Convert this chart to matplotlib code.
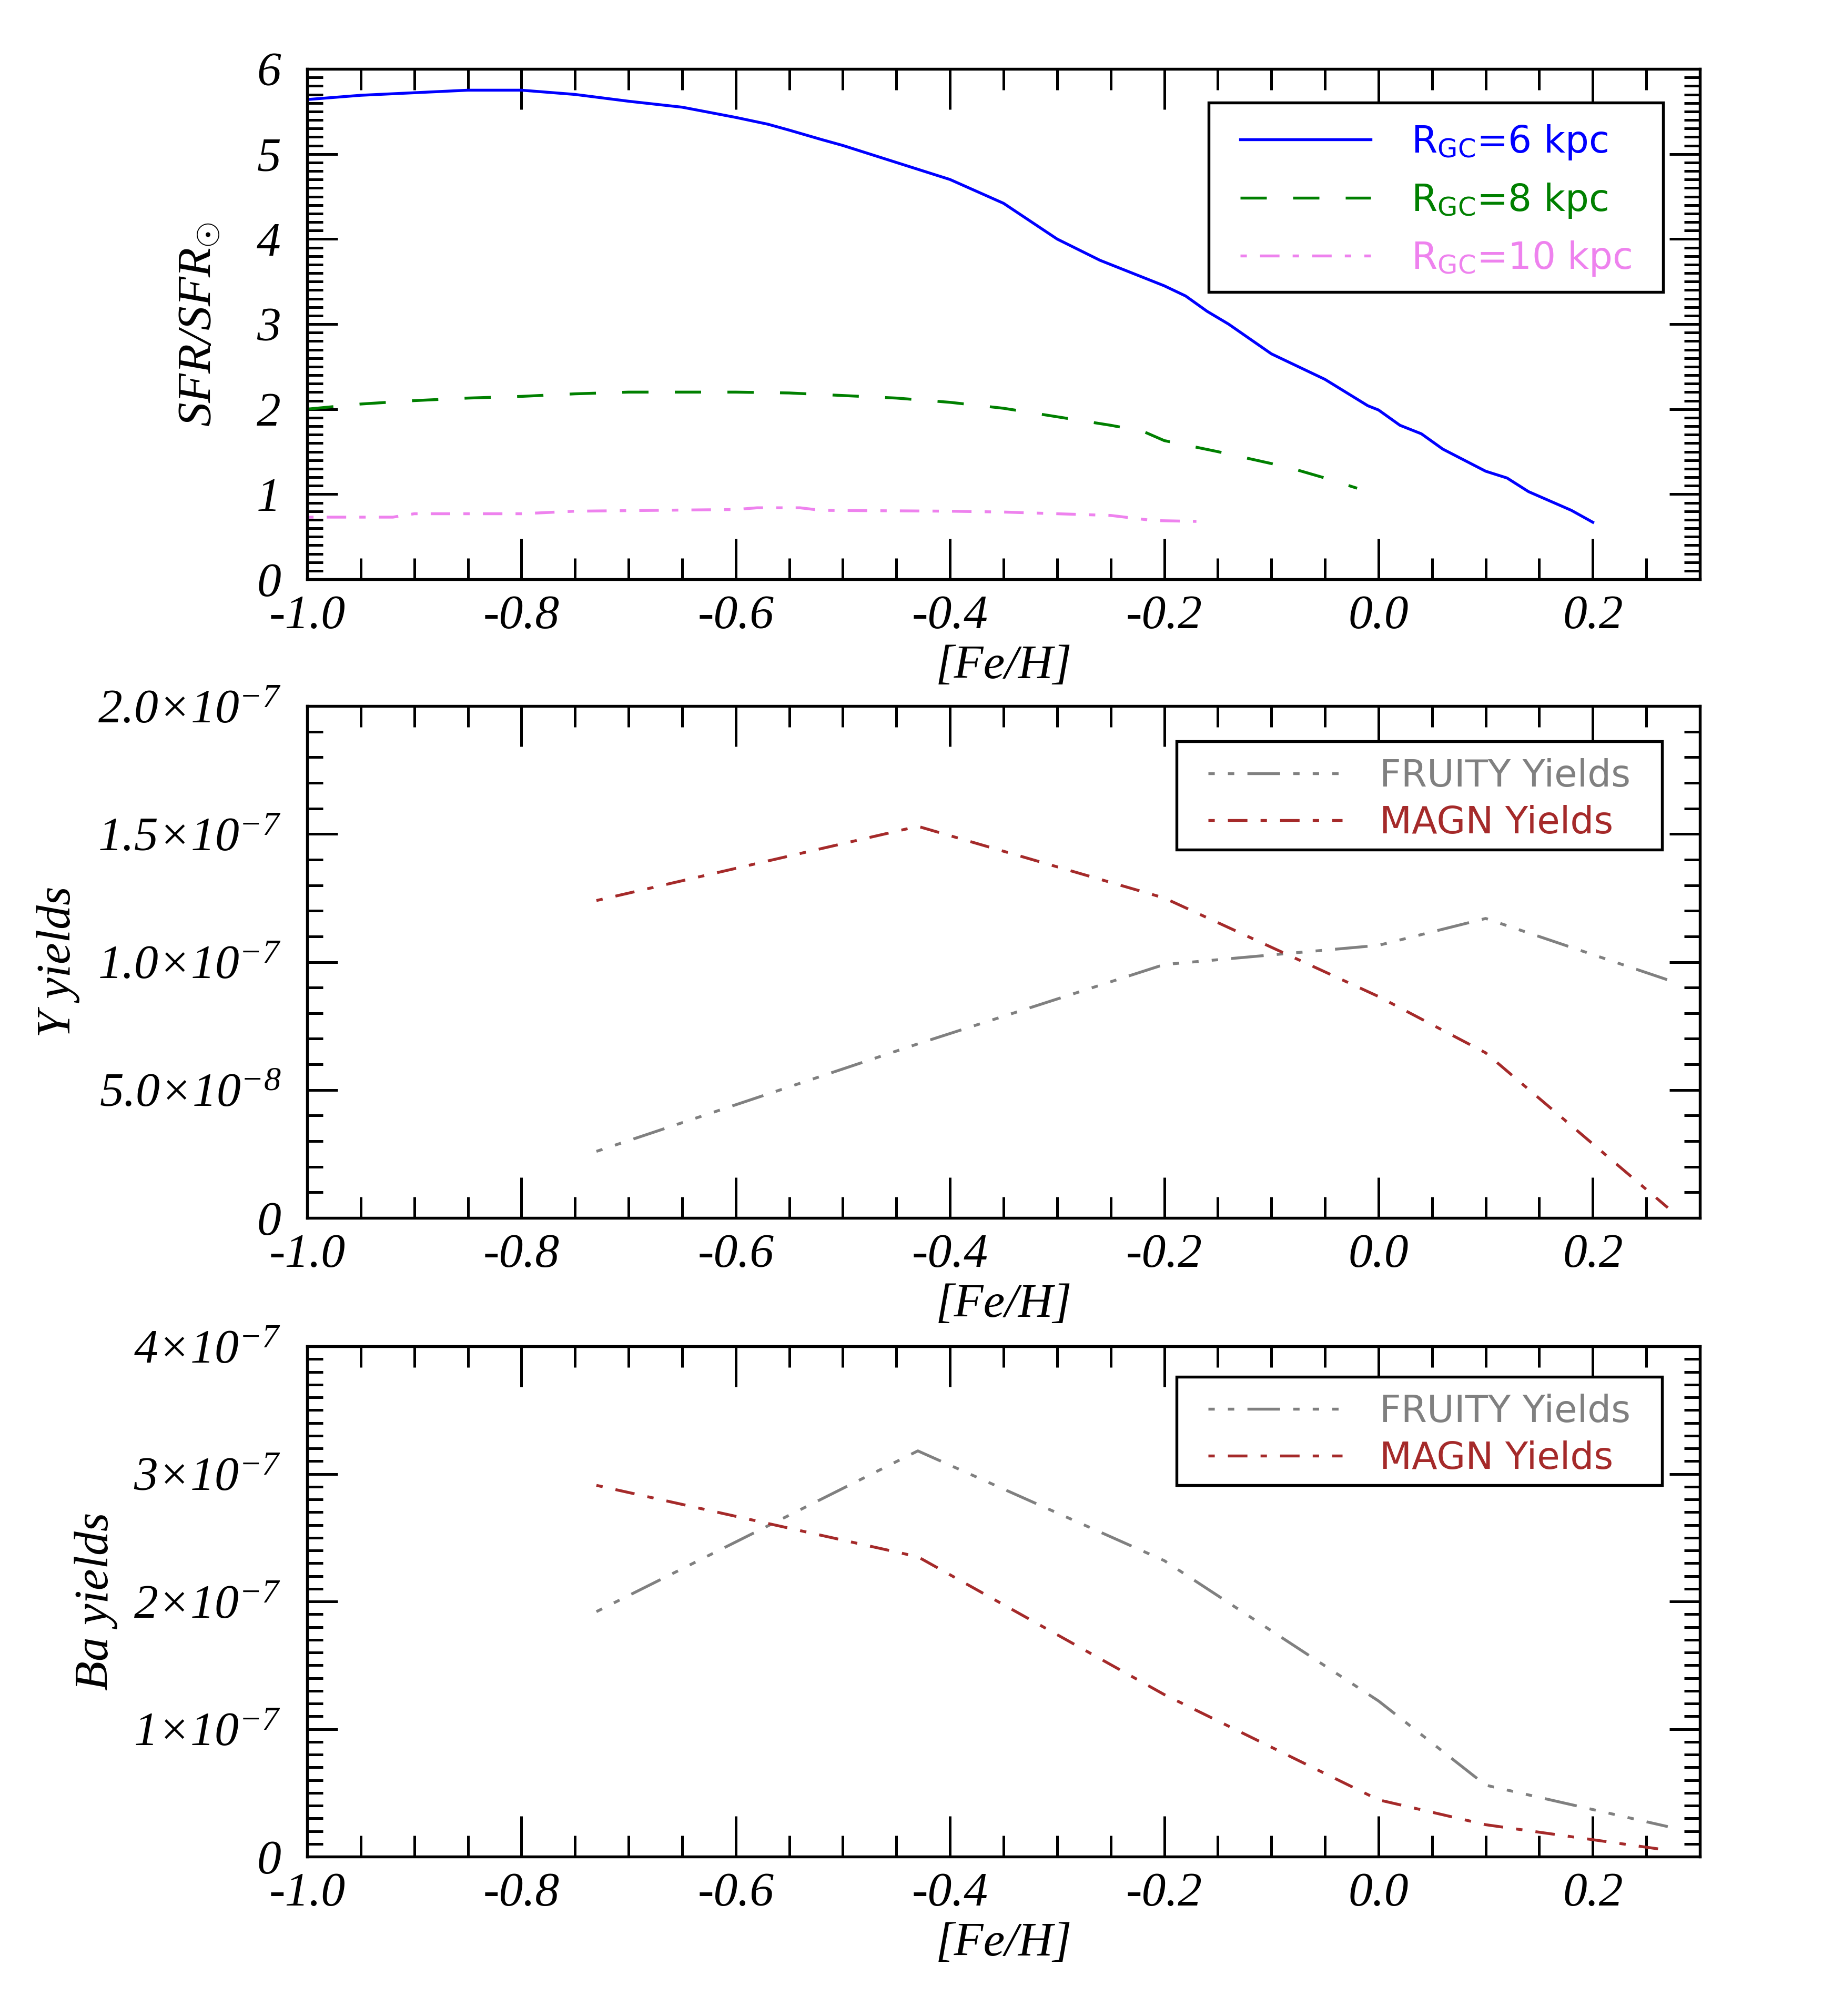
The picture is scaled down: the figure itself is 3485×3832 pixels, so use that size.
import matplotlib
matplotlib.use('Agg')
import matplotlib.pyplot as plt
from matplotlib.ticker import MultipleLocator, FixedLocator, FixedFormatter, FuncFormatter
from matplotlib.font_manager import FontProperties
from matplotlib.patches import Rectangle
from matplotlib.transforms import IdentityTransform

# ---------------- data ----------------
feh_r6 = [-1.0, -0.95, -0.9, -0.85, -0.8, -0.75, -0.7, -0.65, -0.6, -0.57, -0.55, -0.52,
          -0.5, -0.45, -0.4, -0.35, -0.3, -0.26, -0.22, -0.2, -0.18, -0.16, -0.14, -0.1,
          -0.05, -0.01, 0.0, 0.02, 0.04, 0.06, 0.1, 0.12, 0.14, 0.16, 0.18, 0.2]
sfr_r6 = [5.64, 5.69, 5.72, 5.75, 5.75, 5.70, 5.62, 5.55, 5.43, 5.35, 5.28, 5.17,
          5.10, 4.90, 4.70, 4.42, 4.00, 3.75, 3.55, 3.45, 3.33, 3.15, 3.00, 2.65,
          2.35, 2.04, 1.99, 1.81, 1.71, 1.53, 1.27, 1.19, 1.03, 0.92, 0.81, 0.67]

feh_r8 = [-1.0, -0.95, -0.9, -0.85, -0.8, -0.75, -0.7, -0.65, -0.6, -0.55, -0.5, -0.45,
          -0.4, -0.35, -0.3, -0.25, -0.22, -0.2, -0.15, -0.1, -0.08, -0.05, -0.02]
sfr_r8 = [2.00, 2.06, 2.10, 2.13, 2.15, 2.18, 2.20, 2.20, 2.20, 2.19, 2.16, 2.13,
          2.08, 2.01, 1.91, 1.81, 1.74, 1.63, 1.50, 1.36, 1.30, 1.19, 1.07]

feh_r10 = [-1.0, -0.95, -0.92, -0.9, -0.8, -0.75, -0.6, -0.58, -0.54, -0.52, -0.4, -0.35,
           -0.3, -0.25, -0.23, -0.21, -0.17]
sfr_r10 = [0.73, 0.73, 0.73, 0.77, 0.77, 0.80, 0.82, 0.84, 0.84, 0.81, 0.80, 0.79,
           0.77, 0.75, 0.72, 0.69, 0.68]

feh_yields = [-0.73, -0.43, -0.2, 0.0, 0.1, 0.27]
y_fruity = [0.26e-7, 0.68e-7, 0.99e-7, 1.065e-7, 1.17e-7, 0.93e-7]
y_magn = [1.24e-7, 1.53e-7, 1.25e-7, 0.865e-7, 0.645e-7, 0.04e-7]
ba_fruity = [1.92e-7, 3.18e-7, 2.32e-7, 1.22e-7, 0.56e-7, 0.235e-7]
ba_magn = [2.91e-7, 2.35e-7, 1.27e-7, 0.445e-7, 0.25e-7, 0.05e-7]

sfr_labels = ['R$_{\\mathsf{GC}}$=6 kpc', 'R$_{\\mathsf{GC}}$=8 kpc', 'R$_{\\mathsf{GC}}$=10 kpc']
yield_labels = ['FRUITY Yields', 'MAGN Yields']

sfr_yticks = [0, 1, 2, 3, 4, 5, 6]
sfr_yticklabels = ['0', '1', '2', '3', '4', '5', '6']
y_yticks = [0, 5e-8, 1e-7, 1.5e-7, 2e-7]
y_yticklabels = ['0', r'$5.0{\times}10^{-8}$', r'$1.0{\times}10^{-7}$',
                 r'$1.5{\times}10^{-7}$', r'$2.0{\times}10^{-7}$']
ba_yticks = [0, 1e-7, 2e-7, 3e-7, 4e-7]
ba_yticklabels = ['0', r'$1{\times}10^{-7}$', r'$2{\times}10^{-7}$',
                  r'$3{\times}10^{-7}$', r'$4{\times}10^{-7}$']

# ---------------- style ----------------
plt.rcParams.update({
    'font.family': ['Liberation Serif', 'DejaVu Serif'],
    'font.style': 'italic',
    'mathtext.fontset': 'custom',
    'mathtext.it': 'Liberation Serif:italic',
    'mathtext.rm': 'Liberation Serif',
    'mathtext.sf': 'DejaVu Sans:style=normal',
    'mathtext.default': 'it',
    'axes.unicode_minus': False,
    'lines.scale_dashes': False,
})

W, H = 3485, 3832
DPI = 300
fig = plt.figure(figsize=(W / DPI, H / DPI), dpi=DPI)

left = 584 / W
width = (3232 - 584) / W
ax1 = fig.add_axes([left, 1 - 1101 / H, width, 970 / H])
ax2 = fig.add_axes([left, 1 - 2315 / H, width, 973 / H])
ax3 = fig.add_axes([left, 1 - 3529 / H, width, 970 / H])

LW = 1.3
C_BLUE, C_GREEN, C_VIOLET = '#0000ff', '#008000', '#ee82ee'
C_GRAY, C_BROWN = '#808080', '#a52a2a'
DASHED = (0, (12, 12))
DASHDOT = (0, (2.9, 6, 8.9, 6))
DASHDOT3 = (0, (2.9, 6, 2.9, 6, 14.9, 6, 2.9, 6))

LEG_FS = 17
LEG_FS_PX = LEG_FS * DPI / 72
legend_prop = FontProperties(family='DejaVu Sans', style='normal', size=LEG_FS)
HANDLE_INSET_PX = 60  # distance from frame to handle start (pixels)


def xfmt(v, p):
    if abs(v) < 1e-9:
        return '0.0'
    return f'{v:.1f}'


def style(ax):
    ax.set_xlim(-1.0, 0.3)
    ax.xaxis.set_major_locator(MultipleLocator(0.2))
    ax.xaxis.set_minor_locator(MultipleLocator(0.05))
    ax.xaxis.set_major_formatter(FuncFormatter(xfmt))
    ax.tick_params(which='both', direction='in', top=True, right=True, labelsize=22)
    ax.tick_params(axis='x', which='major', length=18.5, width=1.2, pad=7)
    ax.tick_params(axis='x', which='minor', length=9.6, width=1.2)
    ax.tick_params(axis='y', which='major', length=14, width=1.2, pad=12)
    ax.tick_params(axis='y', which='minor', length=7.2, width=1.2)
    for s in ax.spines.values():
        s.set_linewidth(1.3)
    ax.set_xlabel('[Fe/H]', fontsize=22, labelpad=3)


def add_legend(ax, frame_right_px, frame_top_px, ax_top_px, labelspacing, hl, htp, bp):
    pos = ax.get_position()
    ax_h = pos.height * H
    ax_w = pos.width * W
    ax_left = pos.x0 * W
    extra = HANDLE_INSET_PX - bp * LEG_FS_PX
    anchor = ((frame_right_px - extra - ax_left) / ax_w,
              1 - (frame_top_px - ax_top_px) / ax_h)
    leg = ax.legend(loc='upper right', bbox_to_anchor=anchor,
                    borderaxespad=0, prop=legend_prop, frameon=False,
                    handlelength=hl, handletextpad=htp, borderpad=bp,
                    labelcolor='linecolor', labelspacing=labelspacing)
    leg.set_zorder(6)
    return leg, extra


def add_frame(ax, leg, extra, trim, renderer):
    bb = leg.get_window_extent(renderer)
    rect = Rectangle((bb.x0 - extra, bb.y0 + trim), bb.width + 2 * extra, bb.height - trim,
                     transform=IdentityTransform(), facecolor='white',
                     edgecolor='black', linewidth=1.3, zorder=5.5, clip_on=False)
    ax.add_patch(rect)


# ---- top panel ----
ax1.plot(feh_r6, sfr_r6, color=C_BLUE, lw=LW, label=sfr_labels[0])
ax1.plot(feh_r8, sfr_r8, color=C_GREEN, lw=LW, linestyle=DASHED, label=sfr_labels[1])
ax1.plot(feh_r10, sfr_r10, color=C_VIOLET, lw=LW, linestyle=DASHDOT, label=sfr_labels[2])
style(ax1)
ax1.set_ylim(0, 6)
ax1.yaxis.set_major_locator(FixedLocator(sfr_yticks))
ax1.yaxis.set_major_formatter(FixedFormatter(sfr_yticklabels))
ax1.yaxis.set_minor_locator(MultipleLocator(0.1))
ax1.set_ylabel(r'$SFR/SFR_{\odot}$', fontsize=22)
ax1.yaxis.set_label_coords(-0.062, 0.5)
leg1 = add_legend(ax1, 3162, 195, 131, 0.53, 3.5, 1.08, 0.55)

# ---- middle panel ----
ax2.plot(feh_yields, y_fruity, color=C_GRAY, lw=LW, linestyle=DASHDOT3, label=yield_labels[0])
ax2.plot(feh_yields, y_magn, color=C_BROWN, lw=LW, linestyle=DASHDOT, label=yield_labels[1])
style(ax2)
ax2.set_ylim(0, 2e-7)
ax2.yaxis.set_major_locator(FixedLocator(y_yticks))
ax2.yaxis.set_major_formatter(FixedFormatter(y_yticklabels))
ax2.yaxis.set_minor_locator(MultipleLocator(1e-8))
ax2.set_ylabel('Y yields', fontsize=22)
ax2.yaxis.set_label_coords(-0.163, 0.5)
leg2 = add_legend(ax2, 3160, 1409, 1342, 0.28, 3.6, 1.0, 0.45)

# ---- bottom panel ----
ax3.plot(feh_yields, ba_fruity, color=C_GRAY, lw=LW, linestyle=DASHDOT3, label=yield_labels[0])
ax3.plot(feh_yields, ba_magn, color=C_BROWN, lw=LW, linestyle=DASHDOT, label=yield_labels[1])
style(ax3)
ax3.set_ylim(0, 4e-7)
ax3.yaxis.set_major_locator(FixedLocator(ba_yticks))
ax3.yaxis.set_major_formatter(FixedFormatter(ba_yticklabels))
ax3.yaxis.set_minor_locator(MultipleLocator(1e-8))
ax3.set_ylabel('Ba yields', fontsize=22)
ax3.yaxis.set_label_coords(-0.136, 0.5)
leg3 = add_legend(ax3, 3160, 2617, 2559, 0.28, 3.6, 1.0, 0.45)

fig.canvas.draw()
renderer = fig.canvas.get_renderer()
for ax, (leg, extra), trim in ((ax1, leg1, 12), (ax2, leg2, 16), (ax3, leg3, 16)):
    add_frame(ax, leg, extra, trim, renderer)

fig.savefig('out.png', dpi=DPI)
